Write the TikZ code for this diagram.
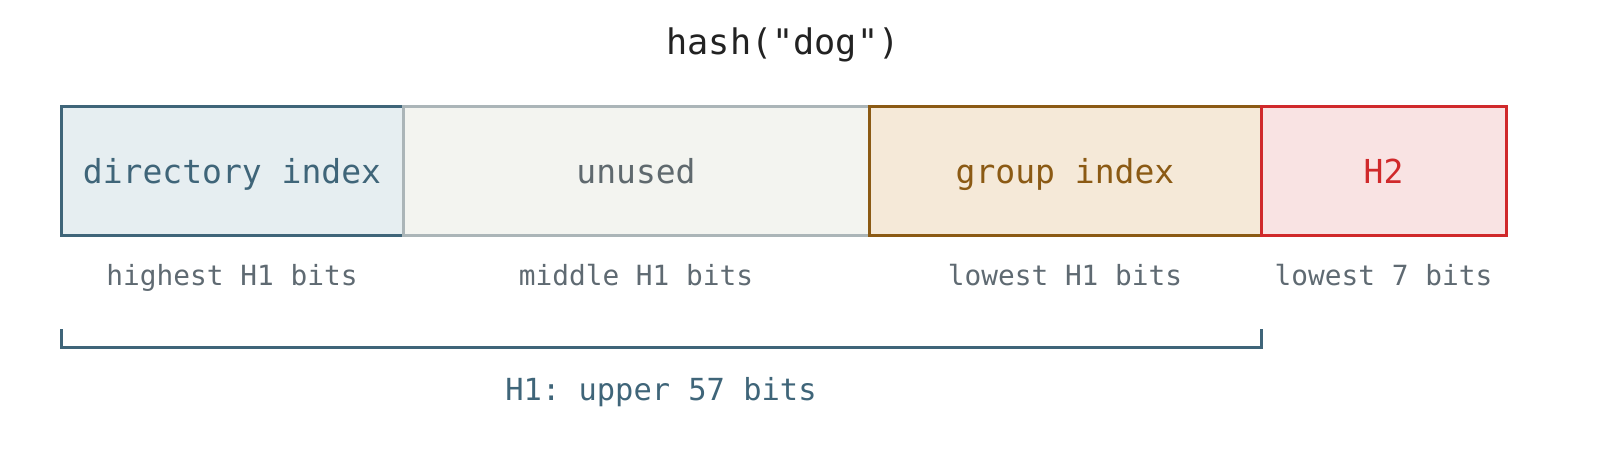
\documentclass[tikz,border=0pt]{standalone}
\usepackage{fontspec}
\setmonofont{DejaVu Sans Mono}
\usetikzlibrary{positioning}

\definecolor{dirline}{HTML}{3F6579}
\definecolor{dirfill}{HTML}{E6EEF1}
\definecolor{unusedline}{HTML}{ABB5B8}
\definecolor{unusedfill}{HTML}{F3F4F0}
\definecolor{unusedtext}{HTML}{5F696E}
\definecolor{groupline}{HTML}{8B5A14}
\definecolor{groupfill}{HTML}{F5E9D8}
\definecolor{htwoline}{HTML}{D0292B}
\definecolor{htwofill}{HTML}{F9E3E3}
\definecolor{bitstext}{HTML}{5F6A72}
\definecolor{titletext}{HTML}{222222}

\begin{document}
\begin{tikzpicture}[
    x=0.5pt, y=-0.5pt,
    field/.style={
        rectangle,
        draw,
        line width=1.5pt,
        minimum height=64pt,
        text height=16pt,
        text depth=3pt,
        inner sep=0pt,
        outer sep=0pt,
        anchor=west,
        font=\ttfamily\fontsize{16.5}{18}\selectfont,
    },
    bits/.style={
        anchor=base,
        inner sep=0pt,
        text=bitstext,
        font=\ttfamily\fontsize{13.9}{16}\selectfont,
    },
    bracket/.style={
        dirline,
        line width=1.5pt,
    }
]
    \useasboundingbox (0,0) rectangle (1600,460);

    % Title
    \node[anchor=base, inner sep=0pt, text=titletext, font=\ttfamily\fontsize{17.6}{20}\selectfont] (title) at (783,55) {hash("dog")};

    % Fields
    \node[field, draw=dirline, fill=dirfill, text=dirline, minimum width=171pt] (dir) at (61,171) {directory index};
    \node[field, draw=unusedline, fill=unusedfill, text=unusedtext, minimum width=233pt] (unused) at (dir.east) {unused};
    \node[field, draw=groupline, fill=groupfill, text=groupline, minimum width=196pt] (group) at (unused.east) {group index};
    \node[field, draw=htwoline, fill=htwofill, text=htwoline, minimum width=122.5pt] (htwo) at (group.east) {H2};

    % Bit ranges
    \node[bits] (dirbits) at (dir.south |- 0,285) {highest H1 bits};
    \node[bits] (unusedbits) at (unused.south |- 0,285) {middle H1 bits};
    \node[bits] (groupbits) at (group.south |- 0,285) {lowest H1 bits};
    \node[bits] (htwobits) at (htwo.south |- 0,285) {lowest 7 bits};

    % H1 bracket
    \coordinate (hleft) at (dir.west |- 0,329);
    \coordinate (hright) at (group.east |- 0,329);
    \draw[bracket] (hleft) -- ++(0,18) -| (hright);
    \node[anchor=base, inner sep=0pt, text=dirline, font=\ttfamily\fontsize{15.2}{18}\selectfont] (hone) at (661,400) {H1: upper 57 bits};
\end{tikzpicture}
\end{document}
